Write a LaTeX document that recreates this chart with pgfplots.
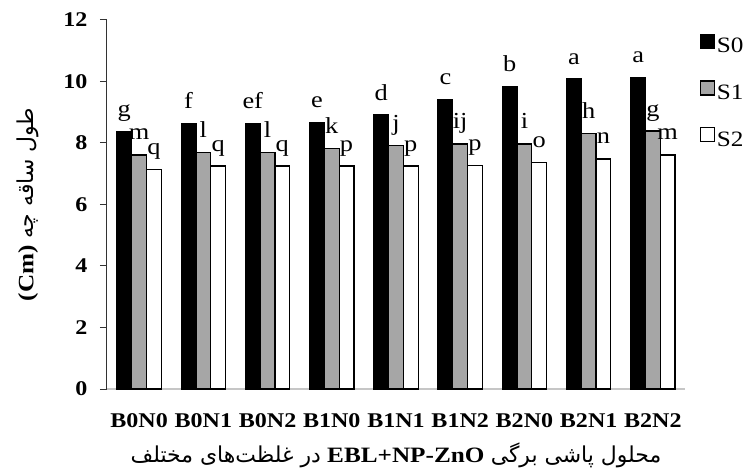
\documentclass[border=0pt]{standalone}
\usepackage{fontspec}
\setmainfont[FakeStretch=1.15]{Liberation Serif}
\newfontfamily\arabicfont[Script=Arabic]{DejaVu Sans}
\usepackage{pgfplots}
\usepackage{pgfplotstable}
\pgfplotsset{compat=1.18}
\TeXXeTstate=1
\definecolor{sgray}{HTML}{A6A6A6}
\pgfplotstableread{
x s0 s1 s2 l0 l1 l2
0 8.37 7.61 7.15 g m q
1 8.63 7.70 7.25 f l q
2 8.63 7.70 7.25 ef l q
3 8.67 7.83 7.25 e k p
4 8.91 7.93 7.25 d j p
5 9.42 7.97 7.28 c ij p
6 9.83 7.97 7.36 b i o
7 10.08 8.31 7.48 a h n
8 10.12 8.39 7.61 a g m
}\datatable
\begin{document}
\begin{tikzpicture}
\useasboundingbox (-107bp,-86bp) rectangle (643bp,389bp);
\begin{axis}[
  scale only axis,
  width=578bp, height=369bp,
  ybar,
  bar width=0.23,
  xmin=-0.5, xmax=8.5,
  ymin=0, ymax=12,
  ytick={0,2,4,6,8,10,12},
  xtick={0,1,2,3,4,5,6,7,8},
  xticklabels={B0N0,B0N1,B0N2,B1N0,B1N1,B1N2,B2N0,B2N1,B2N2},
  axis x line*=bottom,
  axis y line*=left,
  x axis line style={draw=gray!45, line width=1.2bp},
  y axis line style={draw=black!80, line width=1bp},
  x tick style={draw=none},
  y tick style={draw=black!80, line width=1bp},
  tick align=outside,
  major tick length=7bp,
  /pgf/number format/assume math mode=true,
  yticklabel style={font=\fontsize{21}{24}\selectfont\bfseries, xshift=-9bp},
  xticklabel style={font=\fontsize{21}{24}\selectfont\bfseries, yshift=-14bp},
  ylabel={\fontsize{22}{24}\selectfont\bfseries (Cm) {\arabicfont\mdseries\beginR طول ساقه چه\endR}},
  ylabel style={at={(axis description cs:-0.137,0.5)}, anchor=center},
  xlabel={\fontsize{22}{26}\selectfont {\arabicfont\beginR در غلظت‌های مختلف\endR} \textbf{EBL+NP-ZnO} {\arabicfont\beginR محلول پاشی برگی\endR}},
  xlabel style={at={(axis description cs:0.5,-0.179)}, anchor=center},
  point meta=explicit symbolic,
  nodes near coords,
  every node near coord/.append style={font=\fontsize{23}{26}\selectfont, anchor=base, yshift=15bp},
  legend style={at={(1.025,0.963)}, anchor=north west, draw=none, fill=none,
    font=\fontsize{22}{26}\selectfont, row sep=24bp, inner sep=0pt,
    nodes={inner xsep=2bp}},
  legend cell align=left,
  legend image code/.code={\draw[#1, line width=1.2bp] (0bp,-2bp) rectangle (14bp,12bp);},
]
\addplot[draw=black, fill=black, line width=1.2bp, bar shift=-0.23] table[x=x, y=s0, meta=l0] {\datatable};
\addplot[draw=black, fill=sgray, line width=1.2bp, bar shift=0] table[x=x, y=s1, meta=l1] {\datatable};
\addplot[draw=black, fill=white, line width=1.2bp, bar shift=0.23] table[x=x, y=s2, meta=l2] {\datatable};
\legend{S0,S1,S2}
\end{axis}
\end{tikzpicture}
\end{document}
